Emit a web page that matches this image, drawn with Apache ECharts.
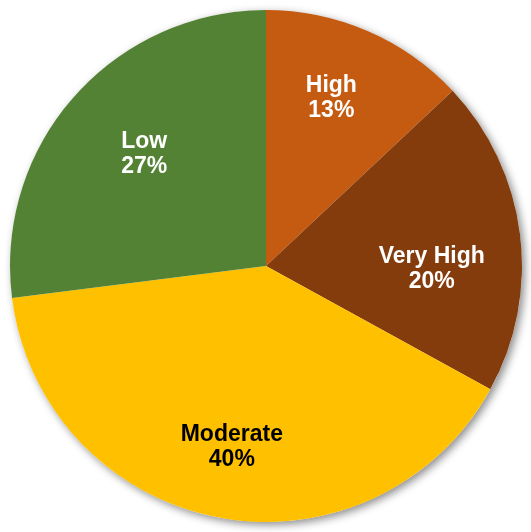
<!DOCTYPE html>
<html>
<head>
<meta charset="utf-8">
<script src="https://cdn.jsdelivr.net/npm/echarts@6/dist/echarts.min.js"></script>
<style>
  html, body { margin: 0; padding: 0; background: #fff; }
  #chart { width: 531px; height: 532px; }
</style>
</head>
<body>
<div id="chart"></div>
<script>
// categories and shares, clockwise from 12 o'clock
let categories = ['High', 'Very High', 'Moderate', 'Low'];
let shares = [13, 20, 40, 27];
let sliceColors = ['#C55A11', '#843C0C', '#FFC000', '#548235'];
let labelColors = ['#fff', '#fff', '#000', '#fff'];
// small nudges so labels sit where the original (best fit) placed them
let labelNudge = [[-5, -5], [-10, 25], [-1, 7], [11, 5]];

let chart = echarts.init(document.getElementById('chart'));

let center = [266, 266];
let R = 256;

let option = {
  animation: false,
  series: [
    {
      // soft drop shadow under the whole disc
      type: 'pie',
      silent: true,
      center: center,
      radius: [0, R],
      z: 1,
      label: {show: false},
      itemStyle: {
        color: '#fff',
        shadowBlur: 8,
        shadowOffsetX: 3,
        shadowOffsetY: 3,
        shadowColor: 'rgba(0,0,0,0.45)'
      },
      data: [{value: 1}]
    },
    {
      type: 'pie',
      silent: true,
      center: center,
      radius: [0, R],
      startAngle: 90,
      clockwise: true,
      z: 2,
      label: {show: false},
      itemStyle: {borderWidth: 0},
      data: categories.map((name, i) => ({
        name: name,
        value: shares[i],
        itemStyle: {color: sliceColors[i]}
      }))
    },
    {
      // transparent ring only used to push labels outward
      type: 'pie',
      silent: true,
      center: center,
      radius: [0.36 * R, R],
      startAngle: 90,
      clockwise: true,
      z: 3,
      itemStyle: {color: 'rgba(0,0,0,0)'},
      label: {
        show: true,
        position: 'inside',
        formatter: p => p.name + '\n' + p.value + '%',
        fontFamily: 'Liberation Sans, Arial, sans-serif',
        fontWeight: 'bold',
        fontSize: 23,
        lineHeight: 25,
        align: 'center'
      },
      labelLayout: p => ({dx: labelNudge[p.dataIndex][0], dy: labelNudge[p.dataIndex][1]}),
      data: categories.map((name, i) => ({
        name: name,
        value: shares[i],
        label: {color: labelColors[i]}
      }))
    }
  ]
};

chart.setOption(option);
</script>
</body>
</html>
